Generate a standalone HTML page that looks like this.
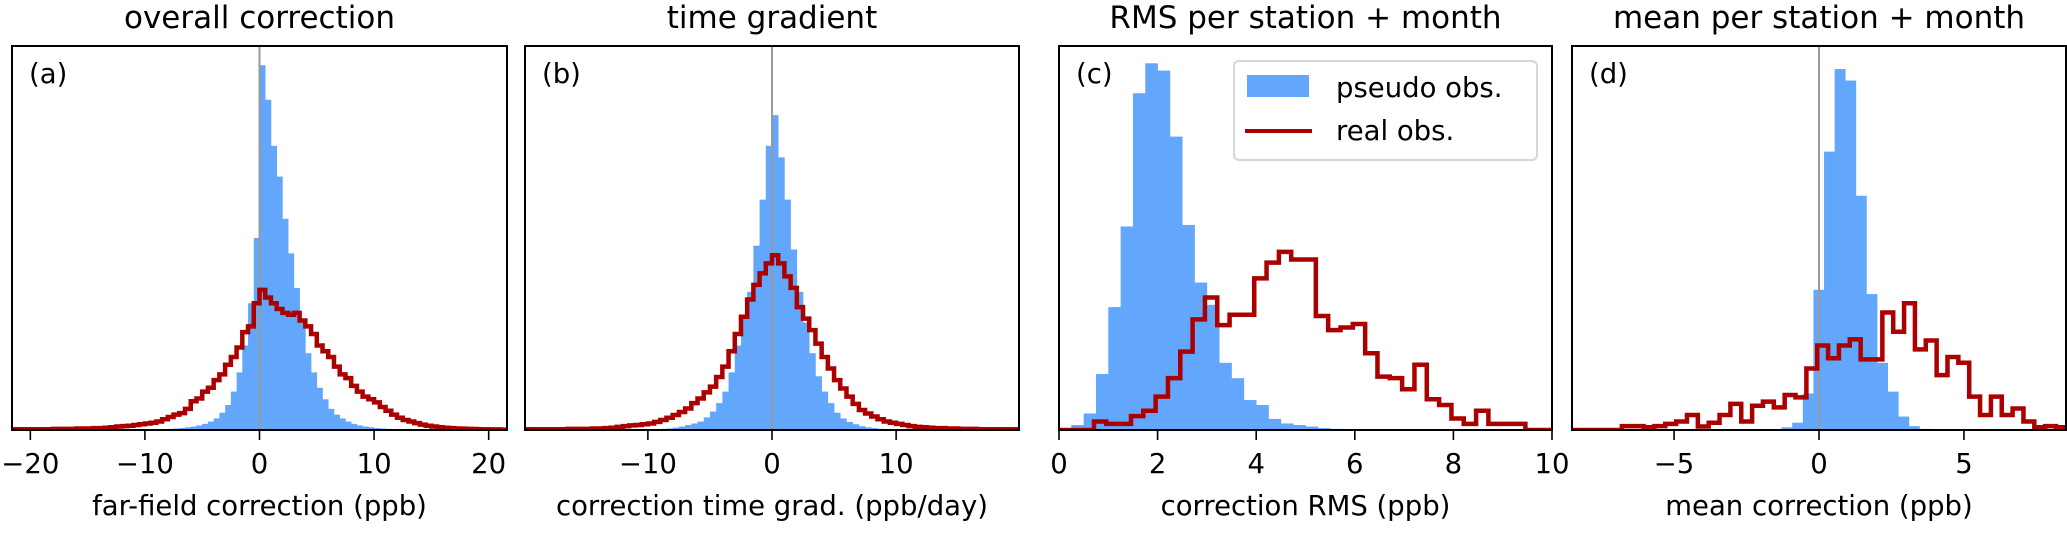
<!DOCTYPE html>
<html><head><meta charset="utf-8">
<style>
html,body{margin:0;padding:0;background:#fff;}
svg{display:block;font-family:"DejaVu Sans","Liberation Sans",sans-serif;}
</style></head>
<body>
<svg id="fig" width="2067" height="536" viewBox="0 0 2067 536" xmlns="http://www.w3.org/2000/svg"></svg>
<script>
// ---------- data (heights as % of axes height) ----------
// Panel (a): overall correction
const aBlueStart = -10, aBlueWidth = 0.5;
const aBlue = [0.1,0.1,0.2,0.2,0.3,0.4,0.5,0.7,0.9,1.2,1.6,2.2,3,4.5,6.5,10,15,22,33,50,95,86,74,66,55,46,37,28,20,15,11,8,5.5,4,3,2.2,1.6,1.2,0.9,0.7,0.5,0.4,0.3,0.2];
const aRedStart = -21.5, aRedWidth = 0.5;
const aRed = [0.2,0.2,0.2,0.2,0.2,0.2,0.2,0.3,0.3,0.3,0.3,0.4,0.4,0.4,0.5,0.5,0.6,0.7,0.9,1.0,1.1,1.3,1.5,1.7,1.9,2.2,2.8,3.4,4.0,4.4,5.5,7.5,8.2,10,11,13,14.5,17,19,21.5,25.5,27,33,36.5,34.5,33,31.5,30.5,30,30.5,28.5,27,25,22,20.5,19,16.5,14.5,13.5,11.5,10,8.7,8,7.2,6,5,4,3.2,2.6,2.2,1.8,1.4,1.1,0.9,0.7,0.6,0.5,0.4,0.35,0.3,0.25,0.2,0.2,0.15,0.15,0.1];
const aTicks = [-20,-10,0,10,20];
const aTickLabels = ["\u221220","\u221210","0","10","20"];

// Panel (b): time gradient
const bBlueStart = -10, bBlueWidth = 0.5;
const bBlue = [0.1,0.2,0.3,0.4,0.6,0.9,1.3,1.7,2.2,3.3,4.8,7,10,15,22,29,36,48,60,74,82,71,60,47,36,28,20,14,10,7,4.5,3,2.1,1.5,1,0.7,0.5,0.3,0.2,0.1];
const bRedStart = -20, bRedWidth = 0.5;
const bRed = [0.2,0.2,0.2,0.2,0.2,0.2,0.2,0.3,0.3,0.3,0.3,0.4,0.4,0.5,0.6,0.8,1.0,1.2,1.3,1.5,1.7,2.1,2.6,3.2,3.9,4.7,5.6,7,8.2,9.8,11.3,13.8,16.5,20.5,25,29.5,34,37.8,40.8,43.4,45.5,43.4,40,37,32,29,26,22.5,19,16,13,10.8,8.7,6.8,5.2,4.3,3.5,2.8,2.2,1.9,1.6,1.3,1.0,0.8,0.7,0.6,0.5,0.5,0.4,0.4,0.3,0.3,0.3,0.2,0.2,0.2,0.2,0.2,0.2,0.2];
const bTicks = [-10,0,10];
const bTickLabels = ["\u221210","0","10"];

// Panel (c): RMS per station + month
const cBlueStart = 0.25, cBlueWidth = 0.25;
const cBlue = [1.3,4.3,14.6,32,53,87.7,95.5,93.6,76.4,53.4,38.4,32.6,17.5,13.5,7.8,6.5,2.9,1.7,1.3,0.9,0.5,0.3];
const cRedStart = 0.71, cRedWidth = 0.25;
const cRed = [2.2,1.6,1.6,3.6,5,8.7,13.5,20.4,28.8,34.5,27.3,30,30,39.5,43.6,46.4,44.4,44.4,29.7,26,26.7,27.6,20,13.9,13.5,10.6,17,8,6.5,3,1.6,5,1.6,1.6,1.6];
const cTicks = [0,2,4,6,8,10];
const cTickLabels = ["0","2","4","6","8","10"];

// Panel (d): mean per station + month
const dBlueStart = -1.29, dBlueWidth = 0.366;
const dBlue = [0.7,1.9,9.5,36.5,72.5,94,91,61,35.4,17.5,10,3.5,1,0.3];
const dRedStart = -6.8, dRedWidth = 0.3744;
const dRed = [1,1,0.7,1,1.6,2.2,3.9,0.9,1.9,3.9,6.8,2.2,6.3,7.4,5.9,9.1,8.5,16,22,18.7,22,23.6,18.4,18.4,30.6,25.6,33,21,23.3,14.3,19,17.5,8.7,3.9,8.7,3.9,5.6,2.2,0.7,1,0.7];
const dTicks = [-10,-5,0,5];
const dTickLabels = ["\u221210","\u22125","0","5"];

// ---------- layout ----------
const NS = "http://www.w3.org/2000/svg";
const svg = document.getElementById('fig');
const TOP = 46, BOTTOM = 430;
const BLUE = "#63a7fd", RED = "#aa0000";

function mk(tag, attrs, parent){
  const e = document.createElementNS(NS, tag);
  for (const k in attrs) e.setAttribute(k, attrs[k]);
  (parent||svg).appendChild(e);
  return e;
}

function panel(p){
  const g = mk('g', {});
  
  
  const xs = v => p.left + (v - p.xmin) / (p.xmax - p.xmin) * (p.right - p.left);
  const ys = h => BOTTOM - h / 100 * (BOTTOM - TOP);
  const clipId = 'clip-' + p.id;
  const cp = mk('clipPath', {id: clipId}, g);
  mk('rect', {x:p.left, y:TOP, width:p.right-p.left, height:BOTTOM-TOP}, cp);
  const plot = mk('g', {'clip-path':'url(#'+clipId+')'}, g);

  p.blue.forEach((h, i) => {
    const x0 = xs(p.blueStart + i*p.blueWidth), x1 = xs(p.blueStart + (i+1)*p.blueWidth);
    const r = mk('rect', {x:x0, y:ys(h), width:Math.max(0, x1-x0+0.3), height:BOTTOM-ys(h), fill:BLUE}, plot);
    
    
  });

  if (p.zero) {
    const zl = mk('line', {x1:xs(0), x2:xs(0), y1:TOP, y2:BOTTOM, stroke:'#999', 'stroke-width':2}, plot);
    
    
  }

  let d = 'M' + xs(p.xmin) + ',' + ys(0) + ' L' + xs(p.redStart) + ',' + ys(0);
  p.red.forEach((h, i) => {
    const x0 = xs(p.redStart + i*p.redWidth), x1 = xs(p.redStart + (i+1)*p.redWidth);
    d += ' L' + x0 + ',' + ys(h) + ' L' + x1 + ',' + ys(h);
  });
  const xe = xs(p.redStart + p.red.length*p.redWidth);
  d += ' L' + xe + ',' + ys(0) + ' L' + xs(p.xmax) + ',' + ys(0);
  const rl = mk('path', {d:d, fill:'none', stroke:RED, 'stroke-width':4.5, 'stroke-linejoin':'miter'}, plot);
  
  

  const fr = mk('rect', {x:p.left, y:TOP, width:p.right-p.left, height:BOTTOM-TOP, fill:'none', stroke:'#000', 'stroke-width':2}, g);
  
  

  p.ticks.forEach((t, i) => {
    const x = xs(t);
    if (x < p.left - 20 || x > p.right + 20) return;
    const tk = mk('line', {x1:x, x2:x, y1:BOTTOM, y2:BOTTOM+10, stroke:'#000', 'stroke-width':1.6}, g);
    
    
    const tl = mk('text', {x:x, y:473, 'font-size':27.5, 'text-anchor':'middle', fill:'#000'}, g);
    tl.textContent = p.tickLabels[i];
    
    
  });

  const cx = (p.left + p.right) / 2;
  const title = mk('text', {x:cx, y:28, 'font-size':31, 'text-anchor':'middle', fill:'#000'}, g);
  title.textContent = p.title;
  
  

  const xl = mk('text', {x:cx, y:515, 'font-size':27.5, 'text-anchor':'middle', fill:'#000'}, g);
  xl.textContent = p.xlabel;
  
  

  const pl = mk('text', {x:p.left + 17, y:83, 'font-size':27.5, fill:'#000'}, g);
  pl.textContent = p.tag;
  
  
}

panel({id:'a', left:12, right:507, xmin:-21.6, xmax:21.6, zero:true,
  blue:aBlue, blueStart:aBlueStart, blueWidth:aBlueWidth,
  red:aRed, redStart:aRedStart, redWidth:aRedWidth,
  ticks:aTicks, tickLabels:aTickLabels,
  title:'overall correction', xlabel:'far-field correction (ppb)', tag:'(a)'});
panel({id:'b', left:525, right:1019, xmin:-19.9, xmax:19.9, zero:true,
  blue:bBlue, blueStart:bBlueStart, blueWidth:bBlueWidth,
  red:bRed, redStart:bRedStart, redWidth:bRedWidth,
  ticks:bTicks, tickLabels:bTickLabels,
  title:'time gradient', xlabel:'correction time grad. (ppb/day)', tag:'(b)'});
panel({id:'c', left:1059, right:1552, xmin:0, xmax:10, zero:false,
  blue:cBlue, blueStart:cBlueStart, blueWidth:cBlueWidth,
  red:cRed, redStart:cRedStart, redWidth:cRedWidth,
  ticks:cTicks, tickLabels:cTickLabels,
  title:'RMS per station + month', xlabel:'correction RMS (ppb)', tag:'(c)'});
panel({id:'d', left:1572, right:2066, xmin:-8.52, xmax:8.52, zero:true,
  blue:dBlue, blueStart:dBlueStart, blueWidth:dBlueWidth,
  red:dRed, redStart:dRedStart, redWidth:dRedWidth,
  ticks:dTicks, tickLabels:dTickLabels,
  title:'mean per station + month', xlabel:'mean correction (ppb)', tag:'(d)'});

const lg = mk('g', {});


mk('rect', {x:1234, y:61, width:303, height:99, rx:5, fill:'#fff', 'fill-opacity':0.8, stroke:'#d6d6d6', 'stroke-width':2}, lg);
const lb = mk('rect', {x:1247, y:75, width:62, height:22, fill:BLUE}, lg);


const lt1 = mk('text', {x:1336, y:97, 'font-size':27.5, fill:'#000'}, lg);
lt1.textContent = 'pseudo obs.';


const lr = mk('line', {x1:1245, x2:1312, y1:131, y2:131, stroke:RED, 'stroke-width':4}, lg);


const lt2 = mk('text', {x:1336, y:140, 'font-size':27.5, fill:'#000'}, lg);
lt2.textContent = 'real obs.';


</script>
</body></html>
